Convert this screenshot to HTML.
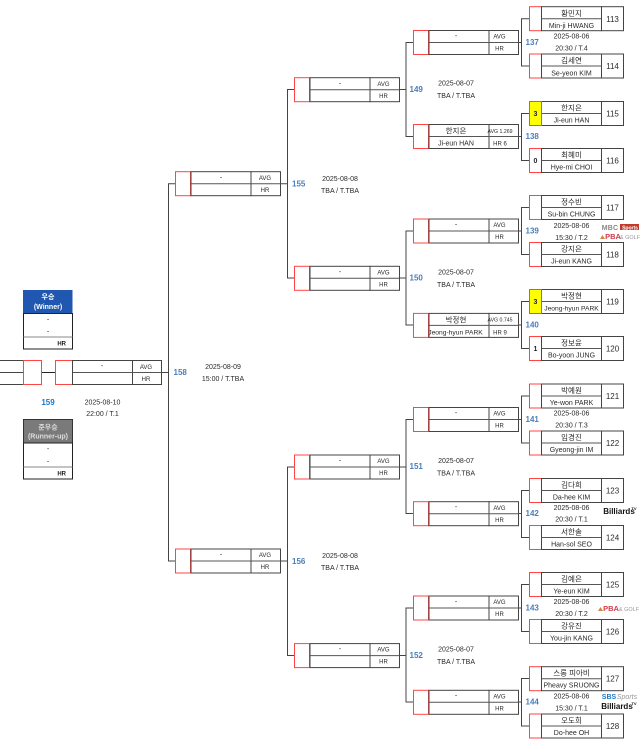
<!DOCTYPE html>
<html><head><meta charset="utf-8"><style>
html,body{margin:0;padding:0;background:#fff;width:641px;height:743px;overflow:hidden}
svg{display:block;filter:blur(.25px)}
text{font-family:"Liberation Sans","Noto Sans CJK KR",sans-serif;font-size:7px;fill:#2a2a2a;text-anchor:middle}
.k{font-size:7.5px}.n{font-size:8px}.s{font-size:6px}.t{font-size:5.2px}
.j{font-size:6.7px}
.b{font-size:8px;font-weight:bold;fill:#4a7ebb;text-anchor:start}
.w{font-weight:bold;fill:#222}.wh{fill:#fff;font-weight:bold}.gy{fill:#ddd;font-weight:bold}
.l{fill:none;stroke:#444;stroke-width:1}
.f{fill:#fff;stroke:#444;stroke-width:1}.m{stroke:#555;stroke-width:1}
.r{fill:#fff;stroke:#f44;stroke-width:1}
</style></head><body>
<svg width="641" height="743" viewBox="0 0 641 743" xmlns="http://www.w3.org/2000/svg">
<defs>
<g id="a"><rect class="r" x="529.5" y="0" width="12" height="24"/><rect class="f" x="541.5" y="0" width="60" height="24"/><rect class="f" x="601.5" y="0" width="22" height="24"/><line class="m" x1="541.5" x2="601.5" y1="12" y2="12"/></g>
<g id="c"><rect class="r" x="0" y="0" width="15" height="24"/><rect class="f" x="15.500" y="0" width="60" height="24"/><rect class="f" x="75.500" y="0" width="29.500" height="24"/><line class="m" x1="15.500" x2="105" y1="12" y2="12"/></g>
</defs>

<!-- connectors round of 32 -->
<path class="l" d="M515 42.500H521.500M529 18.700H521.500V66H529"/>
<path class="l" d="M515 136.500H521.500M529 113.500H521.500V160.500H529"/>
<path class="l" d="M515 231H521.500M529 207.500H521.500V254.500H529"/>
<path class="l" d="M515 325H521.500M529 301.500H521.500V348.500H529"/>
<path class="l" d="M515 419.500H521.500M529 396H521.500V443H529"/>
<path class="l" d="M515 513.500H521.500M529 490.500H521.500V537.500H529"/>
<path class="l" d="M515 608H521.500M529 584.500H521.500V631.500H529"/>
<path class="l" d="M515 702H521.500M529 678.500H521.500V726H529"/>
<!-- round of 16 -->
<path class="l" d="M399 89.500H406M413 42.500H406V136.500H413"/>
<path class="l" d="M399 278H406M413 231H406V325H413"/>
<path class="l" d="M399 467H406M413 419.500H406V513.500H413"/>
<path class="l" d="M399 655.500H406M413 608H406V702H413"/>
<!-- quarter -->
<path class="l" d="M280 183.700H287.500M294 89.500H287.500V278H294"/>
<path class="l" d="M280 561H287.500M294 467H287.500V655.500H294"/>
<!-- semi -->
<path class="l" d="M161 372.500H168.500M175 183.700H168.500V561H175"/>
<path class="l" d="M41.500 372.500H56" style="stroke:#222"/>

<!-- R32 frames -->
<use href="#a" y="6.700"/><use href="#a" y="54"/><use href="#a" y="101.500"/><use href="#a" y="148.500"/>
<use href="#a" y="195.500"/><use href="#a" y="242.500"/><use href="#a" y="289.500"/><use href="#a" y="336.500"/>
<use href="#a" y="384"/><use href="#a" y="431"/><use href="#a" y="478.500"/><use href="#a" y="525.500"/>
<use href="#a" y="572.500"/><use href="#a" y="619.500"/><use href="#a" y="666.700"/><use href="#a" y="714"/>
<rect x="529.500" y="101.500" width="12" height="24" fill="#ff0" stroke="#f44"/>
<rect x="529.500" y="289.500" width="12" height="24" fill="#ff0" stroke="#f44"/>

<!-- R32 names -->
<text class="k" x="571.500" y="16">황민지</text><text x="571.500" y="28">Min-ji HWANG</text><text class="n" x="612.500" y="22">113</text>
<text class="k" x="571.500" y="63">김세연</text><text x="571.500" y="75.500">Se-yeon KIM</text><text class="n" x="612.500" y="69">114</text>
<text class="k" x="571.500" y="110.500">한지은</text><text x="571.500" y="122.500">Ji-eun HAN</text><text class="n" x="612.500" y="116.500">115</text>
<text class="k" x="571.500" y="157.500">최혜미</text><text x="571.500" y="169.500">Hye-mi CHOI</text><text class="n" x="612.500" y="163.500">116</text>
<text class="k" x="571.500" y="204.500">정수빈</text><text x="571.500" y="216.500">Su-bin CHUNG</text><text class="n" x="612.500" y="210.500">117</text>
<text class="k" x="571.500" y="251.500">강지은</text><text x="571.500" y="263.500">Ji-eun KANG</text><text class="n" x="612.500" y="257.500">118</text>
<text class="k" x="571.500" y="298.500">박정현</text><text class="j" x="571.500" y="310.500">Jeong-hyun PARK</text><text class="n" x="612.500" y="304.500">119</text>
<text class="k" x="571.500" y="345.500">정보윤</text><text x="571.500" y="357.500">Bo-yoon JUNG</text><text class="n" x="612.500" y="351.500">120</text>
<text class="k" x="571.500" y="393">박예원</text><text x="571.500" y="405">Ye-won PARK</text><text class="n" x="612.500" y="399">121</text>
<text class="k" x="571.500" y="440">임경진</text><text x="571.500" y="452">Gyeong-jin IM</text><text class="n" x="612.500" y="446">122</text>
<text class="k" x="571.500" y="487.500">김다희</text><text x="571.500" y="499.500">Da-hee KIM</text><text class="n" x="612.500" y="493.500">123</text>
<text class="k" x="571.500" y="534.500">서한솔</text><text x="571.500" y="546.500">Han-sol SEO</text><text class="n" x="612.500" y="540.500">124</text>
<text class="k" x="571.500" y="581.500">김예은</text><text x="571.500" y="593.500">Ye-eun KIM</text><text class="n" x="612.500" y="587.500">125</text>
<text class="k" x="571.500" y="628.500">강유진</text><text x="571.500" y="640.500">You-jin KANG</text><text class="n" x="612.500" y="634.500">126</text>
<text class="k" x="571.500" y="675.500">스롱 피아비</text><text x="571.500" y="687.700">Pheavy SRUONG</text><text class="n" x="612.500" y="681.700">127</text>
<text class="k" x="571.500" y="723">오도희</text><text x="571.500" y="735">Do-hee OH</text><text class="n" x="612.500" y="729">128</text>
<!-- scores -->
<text class="w" x="535.500" y="116">3</text><text class="w" x="535.500" y="163">0</text>
<text class="w" x="535.500" y="304">3</text><text class="w" x="535.500" y="351">1</text>

<!-- R32 labels -->
<text class="b" x="525.500" y="45">137</text><text x="571.500" y="38.500">2025-08-06</text><text x="571.500" y="50.500">20:30 / T.4</text>
<text class="b" x="525.500" y="139">138</text>
<text class="b" x="525.500" y="233.500">139</text><text x="571.500" y="228">2025-08-06</text><text x="571.500" y="240">15:30 / T.2</text>
<text class="b" x="525.500" y="327.500">140</text>
<text class="b" x="525.500" y="422">141</text><text x="571.500" y="415.500">2025-08-06</text><text x="571.500" y="427.500">20:30 / T.3</text>
<text class="b" x="525.500" y="516">142</text><text x="571.500" y="510">2025-08-06</text><text x="571.500" y="521.500">20:30 / T.1</text>
<text class="b" x="525.500" y="610.500">143</text><text x="571.500" y="604">2025-08-06</text><text x="571.500" y="616">20:30 / T.2</text>
<text class="b" x="525.500" y="704.500">144</text><text x="571.500" y="698.500">2025-08-06</text><text x="571.500" y="710.500">15:30 / T.1</text>

<!-- R16 frames -->
<use href="#c" x="413.500" y="30.500"/><use href="#c" x="413.500" y="124.500"/><use href="#c" x="413.500" y="219"/><use href="#c" x="413.500" y="313.400"/>
<use href="#c" x="413.500" y="407.500"/><use href="#c" x="413.500" y="501.700"/><use href="#c" x="413.500" y="596"/><use href="#c" x="413.500" y="690.300"/>
<text x="456" y="38">-</text><text class="s" x="499.500" y="38.500">AVG</text><text class="s" x="499.500" y="50.500">HR</text>
<text class="k" x="456" y="133.500">한지은</text><text x="456" y="145.500">Ji-eun HAN</text><text class="t" x="500" y="133">AVG 1.269</text><text class="s" x="500" y="145.500">HR 6</text>
<text x="456" y="226.500">-</text><text class="s" x="499.500" y="227">AVG</text><text class="s" x="499.500" y="239">HR</text>
<text class="k" x="456" y="322.500">박정현</text><text class="j" x="455.500" y="334.500">Jeong-hyun PARK</text><text class="t" x="500" y="321.500">AVG 0.745</text><text class="s" x="500" y="334.500">HR 9</text>
<text x="456" y="415">-</text><text class="s" x="499.500" y="415.500">AVG</text><text class="s" x="499.500" y="427.500">HR</text>
<text x="456" y="509">-</text><text class="s" x="499.500" y="510">AVG</text><text class="s" x="499.500" y="522">HR</text>
<text x="456" y="603.500">-</text><text class="s" x="499.500" y="604">AVG</text><text class="s" x="499.500" y="616">HR</text>
<text x="456" y="697.500">-</text><text class="s" x="499.500" y="698.500">AVG</text><text class="s" x="499.500" y="710.500">HR</text>

<text class="b" x="409.500" y="92">149</text><text x="456" y="85.500">2025-08-07</text><text x="456" y="98">TBA / T.TBA</text>
<text class="b" x="409.500" y="280.500">150</text><text x="456" y="274.500">2025-08-07</text><text x="456" y="287">TBA / T.TBA</text>
<text class="b" x="409.500" y="469">151</text><text x="456" y="463">2025-08-07</text><text x="456" y="475.500">TBA / T.TBA</text>
<text class="b" x="409.500" y="658">152</text><text x="456" y="651.500">2025-08-07</text><text x="456" y="664">TBA / T.TBA</text>

<!-- QF frames -->
<use href="#c" x="294.500" y="77.700"/><use href="#c" x="294.500" y="266.300"/><use href="#c" x="294.500" y="455"/><use href="#c" x="294.500" y="643.600"/>
<text x="340" y="85.500">-</text><text class="s" x="383.500" y="86">AVG</text><text class="s" x="383.500" y="98">HR</text>
<text x="340" y="274">-</text><text class="s" x="383.500" y="274.500">AVG</text><text class="s" x="383.500" y="286.500">HR</text>
<text x="340" y="462.500">-</text><text class="s" x="383.500" y="463">AVG</text><text class="s" x="383.500" y="475">HR</text>
<text x="340" y="651">-</text><text class="s" x="383.500" y="651.500">AVG</text><text class="s" x="383.500" y="663.500">HR</text>

<text class="b" x="292" y="186.500">155</text><text x="340" y="181">2025-08-08</text><text x="340" y="193">TBA / T.TBA</text>
<text class="b" x="292" y="564">156</text><text x="340" y="558">2025-08-08</text><text x="340" y="570">TBA / T.TBA</text>

<!-- SF frames -->
<use href="#c" x="175.500" y="171.700"/><use href="#c" x="175.500" y="549"/>
<text x="221" y="179.500">-</text><text class="s" x="265" y="180">AVG</text><text class="s" x="265" y="192">HR</text>
<text x="221" y="556.500">-</text><text class="s" x="265" y="557">AVG</text><text class="s" x="265" y="569">HR</text>

<text class="b" x="173.500" y="375">158</text><text x="223" y="369">2025-08-09</text><text x="223" y="381">15:00 / T.TBA</text>

<!-- Final -->
<path class="f" d="M-2 360.500H23.500V384.500H-2ZM-2 372.500H23.500"/>
<rect class="r" x="23.500" y="360.500" width="18" height="24"/>
<rect class="r" x="55.500" y="360.500" width="17" height="24"/>
<rect class="f" x="72.500" y="360.500" width="60" height="24"/>
<rect class="f" x="132.500" y="360.500" width="29" height="24"/>
<line class="m" x1="72.500" x2="161.500" y1="372.500" y2="372.500"/>
<text x="102" y="368">-</text><text class="s" x="146" y="369">AVG</text><text class="s" x="146" y="381">HR</text>
<text x="48" y="405" style="font-size:8px;font-weight:bold;fill:#1a7ac8">159</text>
<text x="102.500" y="404.500">2025-08-10</text><text x="102.500" y="416">22:00 / T.1</text>

<!-- Winner -->
<rect x="23" y="290" width="49.500" height="23.500" fill="#2057b0"/>
<text class="wh" x="48" y="299">우승</text><text class="wh" x="48" y="309">(Winner)</text>
<rect x="23.500" y="313.500" width="49" height="35.500" fill="#fff" stroke="#222"/>
<line x1="23.500" x2="72.500" y1="337" y2="337" stroke="#888"/>
<text x="48" y="321.500">-</text><text x="48" y="333.500">-</text>
<text class="w" x="66" y="345.500" style="font-size:6px;text-anchor:end;font-weight:bold">HR</text>

<!-- Runner-up -->
<rect x="23.500" y="419.500" width="49" height="23.500" fill="#7a7a7a" stroke="#333"/>
<text class="gy" x="48" y="429.500">준우승</text><text class="gy" x="48" y="438.500">(Runner-up)</text>
<rect x="23.500" y="443" width="49" height="36" fill="#fff" stroke="#222"/>
<line x1="23.500" x2="72.500" y1="467" y2="467" stroke="#888"/>
<text x="48" y="451">-</text><text x="48" y="463.500">-</text>
<text class="w" x="66" y="475.500" style="font-size:6px;text-anchor:end;font-weight:bold">HR</text>

<!-- Logos -->
<text x="610" y="230" style="font-size:7px;font-weight:bold;fill:#888;letter-spacing:.2px">MBC</text>
<rect x="620" y="224" width="19" height="6" fill="#c0392b"/>
<text x="630" y="229.500" style="font-size:5px;font-weight:bold;fill:#fff">Sports</text>
<path d="M600 239l2.500-4 2.500 4z" fill="#c84"/>
<text x="613" y="239" style="font-size:7.5px;font-weight:bold;fill:#d43a4a">PBA</text>
<text x="630" y="239" style="font-size:5.500px;fill:#999">&amp; GOLF</text>
<text x="619" y="514" style="font-size:8px;font-weight:bold;fill:#111">Billiards</text>
<text x="634" y="510" style="font-size:4px;font-weight:bold;fill:#111">TV</text>
<path d="M598 611l2.500-4 2.500 4z" fill="#c84"/>
<text x="611" y="611" style="font-size:7.5px;font-weight:bold;fill:#d43a4a">PBA</text>
<text x="629" y="611" style="font-size:5.500px;fill:#999">&amp; GOLF</text>
<text x="609" y="699" style="font-size:7px;font-weight:bold;fill:#1a7ac8">SBS</text>
<text x="627" y="699" style="font-size:7px;font-style:italic;fill:#999">Sports</text>
<text x="617" y="709" style="font-size:8px;font-weight:bold;fill:#111">Billiards</text>
<text x="634" y="705" style="font-size:4px;font-weight:bold;fill:#111">TV</text>
</svg>
</body></html>
